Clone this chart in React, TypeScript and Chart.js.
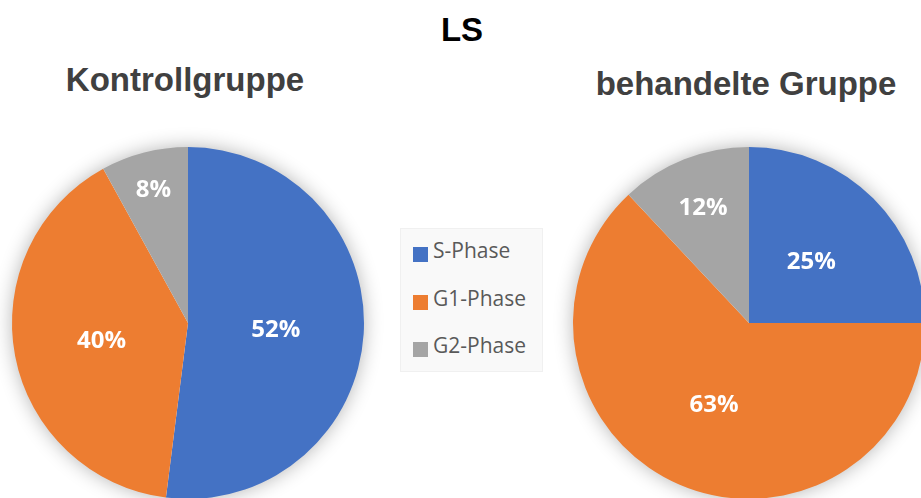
import React, { useEffect, useRef } from "react";
import { Chart, registerables } from "chart.js";

Chart.register(...registerables);

const chartTitle = "LS";
const phases = ["S-Phase", "G1-Phase", "G2-Phase"];
const groupTitles = ["Kontrollgruppe", "behandelte Gruppe"];
const kontrollValues = [52, 40, 8];
const behandeltValues = [25, 63, 12];

const COLORS = ["#4472C4", "#ED7D31", "#A5A5A5"];

const shadowPlugin = {
  id: "pieShadow",
  beforeDatasetsDraw(chart: any) {
    const meta = chart.getDatasetMeta(0);
    const arc = meta.data[0];
    if (!arc) return;
    const { x, y, outerRadius } = arc.getProps(["x", "y", "outerRadius"], true);
    const ctx = chart.ctx;
    ctx.save();
    ctx.shadowColor = "rgba(0,0,0,0.32)";
    ctx.shadowBlur = 20;
    ctx.fillStyle = "#ffffff";
    ctx.beginPath();
    ctx.arc(x, y, outerRadius - 1, 0, Math.PI * 2);
    ctx.fill();
    ctx.restore();
  },
};

const labelPlugin = {
  id: "pctLabels",
  afterDatasetsDraw(chart: any) {
    const ds = chart.data.datasets[0];
    const values: number[] = ds.data;
    const total = values.reduce((a, b) => a + b, 0);
    const meta = chart.getDatasetMeta(0);
    const ctx = chart.ctx;
    ctx.save();
    ctx.fillStyle = "#ffffff";
    ctx.font = "bold 24px 'Open Sans'";
    ctx.textAlign = "center";
    ctx.textBaseline = "alphabetic";
    meta.data.forEach((arc: any, i: number) => {
      const { x, y, startAngle, endAngle, outerRadius } = arc.getProps(
        ["x", "y", "startAngle", "endAngle", "outerRadius"],
        true
      );
      const frac = values[i] / total;
      const factor = frac < 0.15 ? 0.95 - 2 * frac : 0.5;
      const mid = (startAngle + endAngle) / 2;
      const px = x + Math.cos(mid) * outerRadius * factor;
      const py = y + Math.sin(mid) * outerRadius * factor;
      const txt = Math.round(frac * 100) + "%";
      ctx.fillText(txt, px, py + 8.6);
    });
    ctx.restore();
  },
};

function PieCanvas({ values, left, top }: { values: number[]; left: number; top: number }) {
  const ref = useRef<HTMLCanvasElement | null>(null);
  useEffect(() => {
    if (!ref.current) return;
    const chart = new Chart(ref.current, {
      type: "pie",
      data: {
        labels: phases,
        datasets: [
          {
            data: values,
            backgroundColor: COLORS,
            borderWidth: 0,
            hoverOffset: 0,
          },
        ],
      },
      options: {
        responsive: false,
        animation: false,
        radius: 176,
        layout: { padding: 24 },
        plugins: {
          legend: { display: false },
          tooltip: { enabled: false },
          title: { display: false },
        },
      } as any,
      plugins: [shadowPlugin, labelPlugin],
    });
    return () => chart.destroy();
  }, [values]);
  return (
    <canvas
      ref={ref}
      width={400}
      height={400}
      style={{ position: "absolute", left, top, width: 400, height: 400 }}
    />
  );
}

const titleStyle: React.CSSProperties = {
  position: "absolute",
  fontFamily: "'Liberation Sans', Arial, sans-serif",
  fontWeight: "bold",
  fontSize: 33,
  lineHeight: "33px",
  whiteSpace: "nowrap",
  transform: "translateX(-50%)",
};

export default function App() {
  const legendTops = [240, 288, 335];
  return (
    <div
      style={{
        position: "fixed",
        left: 0,
        top: 0,
        width: 921,
        height: 498,
        overflow: "hidden",
        background: "#ffffff",
      }}
    >
      <PieCanvas values={kontrollValues} left={-12} top={123} />
      <PieCanvas values={behandeltValues} left={549} top={123} />
      <div style={{ ...titleStyle, left: 462, top: 13, color: "#000000" }}>{chartTitle}</div>
      <div style={{ ...titleStyle, left: 185, top: 63, color: "#404040" }}>{groupTitles[0]}</div>
      <div style={{ ...titleStyle, left: 746, top: 67, color: "#404040" }}>{groupTitles[1]}</div>
      <div
        style={{
          position: "absolute",
          left: 400,
          top: 228,
          width: 143,
          height: 144,
          background: "#f9f9f9",
          border: "1px solid #f0f0f0",
          boxSizing: "border-box",
        }}
      />
      {phases.map((p, i) => (
        <div
          key={p}
          style={{
            position: "absolute",
            left: 413,
            top: legendTops[i],
            height: 22,
            whiteSpace: "nowrap",
          }}
        >
          <div
            style={{
              position: "absolute",
              left: 0,
              top: 7,
              width: 15,
              height: 15,
              background: COLORS[i],
            }}
          />
          <div
            style={{
              position: "absolute",
              left: 20,
              top: 0,
              fontFamily: "'Open Sans', sans-serif",
              fontSize: 21,
              lineHeight: "21px",
              color: "#595959",
            }}
          >
            {p}
          </div>
        </div>
      ))}
    </div>
  );
}
